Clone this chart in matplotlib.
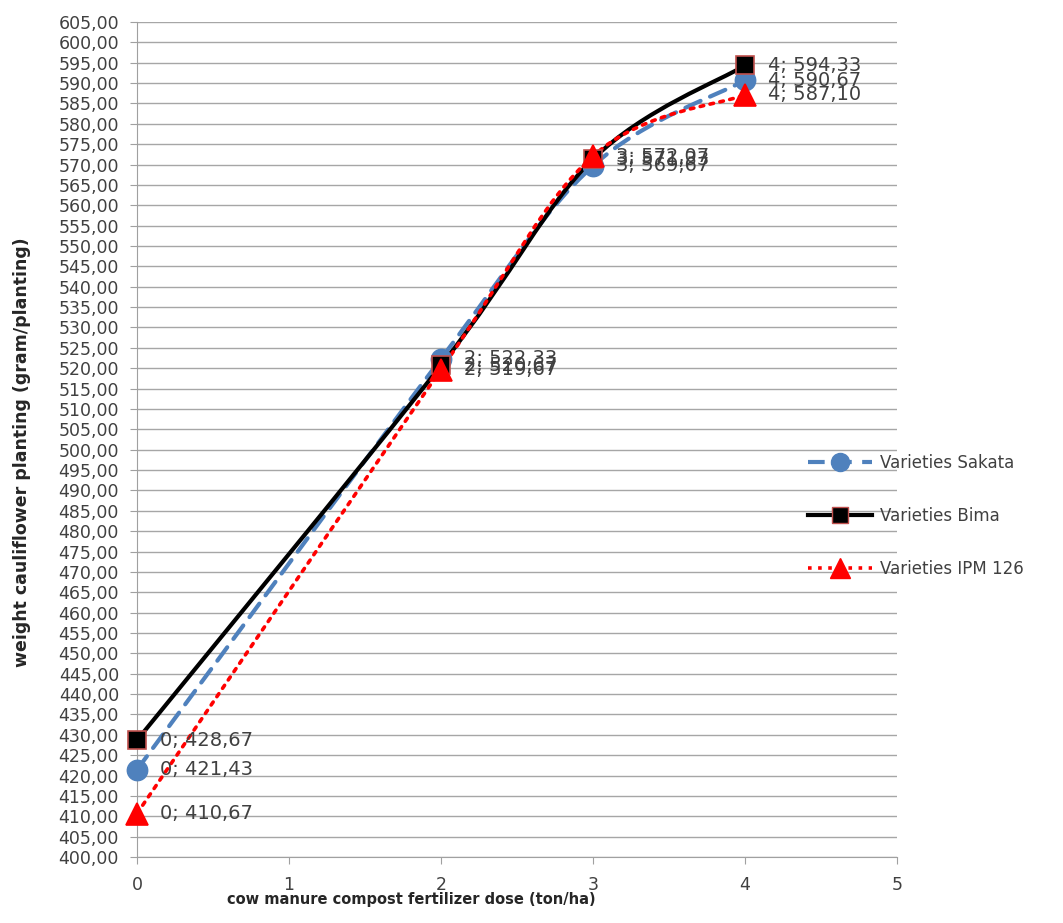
import numpy as np
import matplotlib.pyplot as plt
from matplotlib.path import Path
from matplotlib.patches import PathPatch
from matplotlib.lines import Line2D
from matplotlib.ticker import FuncFormatter

dose = [0, 2, 3, 4]
sakata = [421.43, 522.33, 569.67, 590.67]
bima = [428.67, 520.67, 571.33, 594.33]
ipm = [410.67, 519.67, 572.07, 587.10]

series_names = ["Varieties Sakata", "Varieties Bima", "Varieties IPM 126"]
y_ticks = np.arange(400, 606, 5)
x_ticks = [0, 1, 2, 3, 4, 5]


def smooth_path(xs, ys):
    # Excel-like smoothed line: Catmull-Rom segments drawn as cubic Beziers
    pts = np.column_stack([xs, ys]).astype(float)
    n = len(pts)
    verts = [pts[0]]
    codes = [Path.MOVETO]
    for i in range(n - 1):
        p_prev = pts[i - 1] if i > 0 else pts[i]
        p_next2 = pts[i + 2] if i + 2 < n else pts[i + 1]
        c1 = pts[i] + (pts[i + 1] - p_prev) / 6
        c2 = pts[i + 1] - (p_next2 - pts[i]) / 6
        verts += [c1, c2, pts[i + 1]]
        codes += [Path.CURVE4] * 3
    return Path(verts, codes)


fig = plt.figure(figsize=(10.63, 9.23), dpi=100)
ax = fig.add_axes([137 / 1063, 66 / 923, 760 / 1063, 835 / 923])

styles = [
    dict(color="#4F81BD", ls=(0, (4, 2.5)), lw=3.0, marker="o", mfc="#4F81BD", mec="#4F81BD", ms=14.5),
    dict(color="black", ls="-", lw=3.0, marker="s", mfc="black", mec="#C0504D", ms=13.5),
    dict(color="red", ls=(0, (1, 1.8)), lw=2.6, marker="^", mfc="red", mec="red", ms=15.5),
]

for vals, st in zip([sakata, bima, ipm], styles):
    patch = PathPatch(smooth_path(dose, vals), fill=False, edgecolor=st["color"],
                      linestyle=st["ls"], linewidth=st["lw"], zorder=3,
                      capstyle="round" if st["ls"] != "-" else "butt")
    ax.add_patch(patch)

for vals, st in zip([sakata, bima, ipm], styles):
    ax.plot(dose, vals, ls="none", marker=st["marker"], markersize=st["ms"],
            markerfacecolor=st["mfc"], markeredgecolor=st["mec"], markeredgewidth=1.2,
            zorder=4, clip_on=False)
    for x, y in zip(dose, vals):
        lab = f"{x}; {y:.2f}".replace(".", ",")
        ax.annotate(lab, (x, y), xytext=(23, 0), textcoords="offset pixels",
                    ha="left", va="center", fontsize=14, color="#404040", zorder=5)

ax.set_xlim(0, 5)
ax.set_ylim(400, 605)
ax.set_xticks(x_ticks)
ax.set_yticks(y_ticks)
ax.yaxis.set_major_formatter(FuncFormatter(lambda v, p: f"{v:.2f}".replace(".", ",")))
ax.tick_params(axis="both", labelsize=12.5, colors="#404040", length=5, color="#A0A0A0")
ax.tick_params(axis="y", pad=8)
ax.tick_params(axis="x", pad=9)
ax.grid(axis="y", color="#A6A6A6", lw=1.0)
ax.set_axisbelow(True)
for s in ["top", "right"]:
    ax.spines[s].set_visible(False)
for s in ["left", "bottom"]:
    ax.spines[s].set_color("#A0A0A0")

ax.set_xlabel("cow manure compost fertilizer dose (ton/ha)", fontsize=10.5, fontweight="bold",
              color="#262626")
ax.xaxis.set_label_coords((411 - 137) / 760, (857 - 892) / 835)
ax.set_ylabel("weight cauliflower planting (gram/planting)", fontsize=12.5, fontweight="bold",
              color="#262626")
ax.yaxis.set_label_coords((31 - 137) / 760, (857 - 452) / 835)

handles = [Line2D([0], [0], color=st["color"], ls=st["ls"], lw=st["lw"], marker=st["marker"],
                  markersize=st["ms"] - 1.5, markerfacecolor=st["mfc"], markeredgecolor=st["mec"])
           for st in styles]
fig.legend(handles, series_names, loc="center left", bbox_to_anchor=(793 / 1063, 1 - 516 / 923),
           frameon=False, handlelength=3.85, labelspacing=2.1, fontsize=12, labelcolor="#404040",
           handletextpad=0.48)

fig.savefig("out.png", dpi=100)
